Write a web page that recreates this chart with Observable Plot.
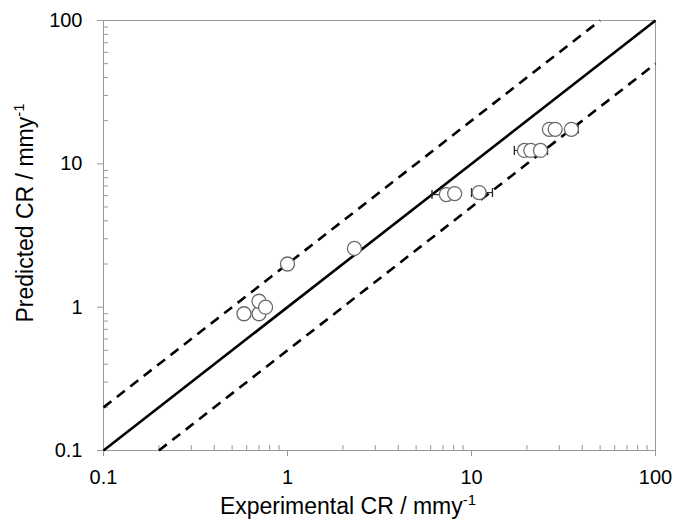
<!DOCTYPE html>
<html>
<head>
<meta charset="utf-8">
<script src="https://cdn.jsdelivr.net/npm/d3@7"></script>
<script src="https://cdn.jsdelivr.net/npm/@observablehq/plot@0.6"></script>
<style>
  html, body { margin: 0; padding: 0; background: #fff; }
  #chart svg { display: block; }
</style>
</head>
<body>
<div id="chart"></div>
<script>
// Data
const experimental = [0.58, 0.70, 0.70, 0.76, 1.0, 2.31, 7.3, 8.1, 11.0, 19.4, 21.0, 23.7, 26.5, 28.5, 34.9];
const predicted    = [0.90, 0.90, 1.10, 1.00, 2.0, 2.57, 6.1, 6.2, 6.3, 12.4, 12.4, 12.4, 17.4, 17.4, 17.4];
const errLow       = [null, null, null, null, null, null, 6.1, null, 10.0, 17.1, null, null, null, null, null];
const errHigh      = [null, null, null, null, null, null, null, null, 13.0, null, null, 25.9, null, null, 38.0];
const majorTicks = [0.1, 1, 10, 100];
const ratios = [1, 2, 0.5];        // predicted / experimental reference lines
const ratioDash = [null, "10,7", "10,7"];
const domain = [0.1, 100];

const points = experimental.map((x, i) => ({x, y: predicted[i], lo: errLow[i], hi: errHigh[i]}));
const caps = [];
points.forEach(p => {
  if (p.lo != null) caps.push({x: p.lo, y: p.y});
  if (p.hi != null) caps.push({x: p.hi, y: p.y});
});
const bars = points.filter(p => p.lo != null || p.hi != null)
  .map(p => ({x1: p.lo ?? p.x, x2: p.hi ?? p.x, y: p.y}));

const refLines = ratios.map((r, i) => {
  const x0 = Math.max(domain[0], domain[0] / r);
  const x1 = Math.min(domain[1], domain[1] / r);
  return {x1: x0, y1: x0 * r, x2: x1, y2: x1 * r, dash: ratioDash[i]};
});

const minorTicks = [];
for (let d = 0.1; d < 100; d *= 10) {
  for (let k = 2; k <= 9; k++) minorTicks.push(+(d * k).toPrecision(3));
}

const capSymbol = {
  draw(context, size) {
    const h = Math.sqrt(size / Math.PI);
    context.moveTo(0, -h);
    context.lineTo(0, h);
  }
};

const font = "Liberation Sans, Arial, sans-serif";

const chart = Plot.plot({
  width: 675,
  height: 519,
  marginLeft: 103,
  marginRight: 20,
  marginTop: 20,
  marginBottom: 69,
  style: {fontFamily: font, fontSize: "20px", color: "#000", background: "#fff"},
  x: {type: "log", domain, axis: null},
  y: {type: "log", domain, axis: null},
  marks: [
    Plot.axisX(minorTicks, {tickSize: -5, stroke: "#999", text: null}),
    Plot.axisY(minorTicks, {tickSize: -5, stroke: "#999", text: null}),
    Plot.axisX(majorTicks, {tickSize: 6, stroke: "#999", tickPadding: 13, fontSize: 20, tickFormat: d => String(d), fill: "#000", label: null}),
    Plot.axisY(majorTicks, {tickSize: 6, stroke: "#999", tickPadding: 15, fontSize: 20, tickFormat: d => String(d), fill: "#000", label: null}),
    Plot.frame({stroke: "#999", strokeWidth: 1}),
    ...refLines.map(l => Plot.link([l], {
      x1: "x1", y1: "y1", x2: "x2", y2: "y2",
      stroke: "#000", strokeWidth: 2.6, strokeDasharray: l.dash ?? undefined
    })),
    Plot.link(bars, {x1: "x1", x2: "x2", y1: "y", y2: "y", stroke: "#222", strokeWidth: 1.1}),
    Plot.dot(caps, {x: "x", y: "y", symbol: capSymbol, r: 4.5, stroke: "#222", strokeWidth: 1.3}),
    Plot.dot(points, {x: "x", y: "y", r: 7, fill: "#fff", stroke: "#6a6a6a", strokeWidth: 1.3})
  ]
});

const svg = d3.select(chart);
// x-axis title with superscript
const xt = svg.append("text")
  .attr("x", 348).attr("y", 514)
  .attr("text-anchor", "middle")
  .attr("font-family", font).attr("font-size", 23).attr("fill", "#000");
xt.append("tspan").text("Experimental CR / mmy");
xt.append("tspan").attr("dy", -9).attr("font-size", 15).text("-1");

const yt = svg.append("text")
  .attr("transform", "translate(33,213) rotate(-90)")
  .attr("text-anchor", "middle")
  .attr("font-family", font).attr("font-size", 23).attr("fill", "#000");
yt.append("tspan").text("Predicted CR / mmy");
yt.append("tspan").attr("dy", -9).attr("font-size", 15).text("-1");

document.getElementById("chart").appendChild(chart);
</script>
</body>
</html>
